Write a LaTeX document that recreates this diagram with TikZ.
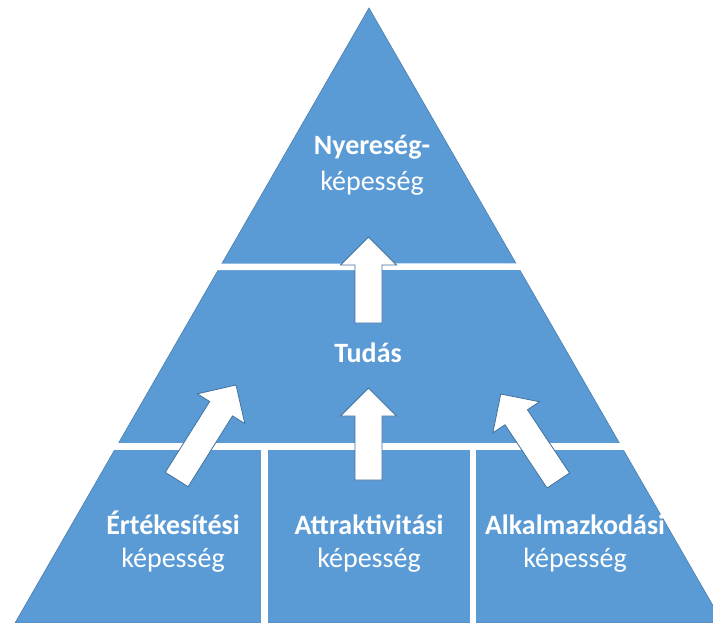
\documentclass[tikz,border=0pt]{standalone}
\usepackage{fontspec}
\setmainfont{Carlito}
\usetikzlibrary{calc}
\definecolor{pyramidblue}{HTML}{5B9BD5}
\definecolor{arrowline}{HTML}{41719C}
\tikzset{
  level label/.style={
    text=white,
    align=center,
    anchor=base,
    inner sep=0pt,
    font=\fontsize{28}{33}\selectfont,
  },
  gap line/.style={white, line width=6.5pt},
  block arrow/.style={
    fill=white,
    draw=arrowline,
    line width=0.8pt,
    line join=miter,
  },
}
% block arrow from tail #1 to tip #2
\newcommand{\blockarrow}[2]{%
  \coordinate (ah) at ($(#2)!28pt!(#1)$);
  \filldraw[block arrow] ($(#1)!13.5pt!90:(#2)$) -- ($(ah)!13.5pt!90:(#2)$)
    -- ($(ah)!28pt!90:(#2)$) -- (#2) -- ($(ah)!28pt!-90:(#2)$)
    -- ($(ah)!13.5pt!-90:(#2)$) -- ($(#1)!13.5pt!-90:(#2)$) -- cycle;
}

\begin{document}
\begin{tikzpicture}[x=1pt, y=-1pt]
        \useasboundingbox (0,0) rectangle (713,623);
        \coordinate (apex)  at (369,8);
        \coordinate (baseL) at (15,623);
        \coordinate (baseR) at (723,623);

        % pyramid and the gaps between its levels
        \begin{scope}
          \clip (0,0) rectangle (713,623);
          \filldraw[fill=pyramidblue, draw=arrowline!70!pyramidblue, line width=0.6pt]
            (apex) -- (baseR) -- (baseL) -- cycle;
          \draw[gap line] (150,267) -- (590,266.5);
          \draw[gap line] (90,446.5) -- (650,446.5);
          \draw[gap line] (264.5,446.5) -- (264.5,630);
          \draw[gap line] (473,446.5) -- (473,630);
        \end{scope}

        % arrow ends
        \coordinate (up1 tail) at (368.5,323);
        \coordinate (up1 tip)  at (368.5,237);
        \coordinate (up2 tail) at (368.5,480);
        \coordinate (up2 tip)  at (368.5,388);
        \coordinate (left tail)  at (176.7,479.5);
        \coordinate (left tip)   at (236,385);
        \coordinate (right tail) at (558.3,480.5);
        \coordinate (right tip)  at (500.7,394);

        \blockarrow{up1 tail}{up1 tip}
        \blockarrow{up2 tail}{up2 tip}
        \blockarrow{left tail}{left tip}
        \blockarrow{right tail}{right tip}

        % labels (base = baseline of the last line)
        \node[level label, font=\fontsize{28}{36.5}\selectfont] (profit) at (372,191)
          {\textbf{Nyereség-}\\képesség};
        \node[level label] (knowledge) at (368,362.7) {\textbf{Tudás}};
        \node[level label] (sales)     at (173,567.5) {\textbf{Értékesítési}\\képesség};
        \node[level label] (attract)   at (369,567.5) {\textbf{Attraktivitási}\\képesség};
        \node[level label] (adapt)     at (575,567.5) {\textbf{Alkalmazkodási}\\képesség};
      \end{tikzpicture}
\end{document}
